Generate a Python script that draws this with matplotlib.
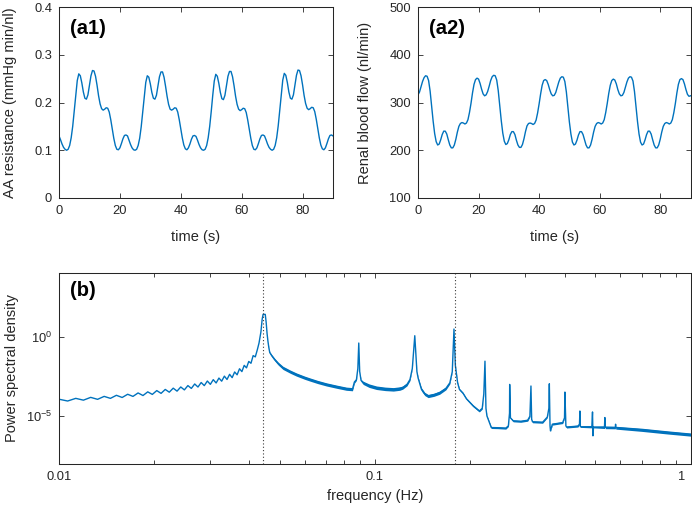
import numpy as np
import matplotlib
matplotlib.use("Agg")
import matplotlib.pyplot as plt
from matplotlib.ticker import FixedLocator, NullLocator, NullFormatter
from matplotlib.transforms import ScaledTranslation

plt.rcParams['font.family'] = ['Liberation Sans', 'DejaVu Sans']
plt.rcParams['mathtext.fontset'] = 'custom'
plt.rcParams['mathtext.rm'] = 'Liberation Sans'
plt.rcParams['mathtext.it'] = 'Liberation Sans:italic'
plt.rcParams['mathtext.bf'] = 'Liberation Sans:bold'

# ---------------- data ----------------
time_s = np.arange(0, 90.25, 0.5)   # sampling grid of the time series (s)

resistance = [
    0.130,0.122,0.113,0.106,0.102,0.100,0.102,0.110,0.126,0.150,
    0.182,0.216,0.246,0.260,0.256,0.241,0.222,0.209,0.207,0.216,
    0.236,0.256,0.267,0.266,0.255,0.236,0.214,0.197,0.187,0.184,
    0.186,0.189,0.188,0.180,0.164,0.144,0.125,0.110,0.102,0.101,
    0.105,0.114,0.124,0.131,0.132,
    0.130,0.121,0.112,0.105,0.101,0.100,0.102,0.110,0.125,0.149,
    0.180,0.213,0.242,0.256,0.253,0.239,0.221,0.209,0.207,0.215,
    0.234,0.254,0.264,0.264,0.253,0.234,0.213,0.196,0.186,0.184,
    0.186,0.189,0.188,0.180,0.164,0.145,0.126,0.111,0.103,0.101,
    0.105,0.113,0.123,0.130,0.131,
    0.129,0.121,0.112,0.105,0.101,0.100,0.102,0.110,0.126,0.150,
    0.181,0.215,0.245,0.259,0.255,0.240,0.221,0.208,0.206,0.215,
    0.235,0.255,0.265,0.265,0.254,0.235,0.213,0.196,0.186,0.183,
    0.185,0.188,0.187,0.179,0.163,0.144,0.125,0.110,0.102,0.101,
    0.105,0.114,0.124,0.131,0.132,
    0.130,0.122,0.113,0.106,0.102,0.100,0.102,0.110,0.126,0.151,
    0.183,0.217,0.247,0.261,0.257,0.242,0.222,0.209,0.207,0.216,
    0.236,0.257,0.268,0.267,0.256,0.237,0.215,0.198,0.188,0.185,
    0.187,0.190,0.189,0.181,0.165,0.145,0.126,0.111,0.103,0.101,
    0.105,0.114,0.124,0.131,0.132,
    0.130,
]

flow = [
    316,322,333,344,352,356,355,346,324,293,
    261,235,218,211,213,222,233,240,240,234,
    222,211,205,205,211,223,238,250,256,258,
    257,255,257,264,279,298,320,338,348,351,
    349,340,328,318,314,
    316,323,334,346,354,357,356,347,325,294,
    262,236,219,212,214,222,233,239,239,233,
    221,211,206,206,212,224,239,251,256,257,
    256,254,256,263,278,297,318,336,346,348,
    346,338,327,318,314,
    315,321,332,343,351,354,353,344,322,291,
    259,234,217,211,213,221,232,239,239,233,
    222,211,205,205,211,223,238,250,256,258,
    257,255,257,264,279,298,319,336,346,349,
    347,339,327,318,314,
    315,321,332,343,351,354,353,345,323,292,
    260,234,217,211,213,222,233,240,240,234,
    222,211,205,205,211,223,238,250,256,258,
    257,255,257,264,279,298,320,338,348,350,
    348,339,327,317,313,
    314,
]

# power spectral density: frequency (Hz), log10(PSD), half band width (decades)
psd_freq = [
    0.01000,0.01065,0.01130,0.01195,0.01260,0.01325,0.01390,0.01455,0.01520,0.01585,
    0.01650,0.01715,0.01780,0.01845,0.01910,0.01975,0.02040,0.02105,0.02170,0.02235,
    0.02300,0.02365,0.02430,0.02495,0.02560,0.02625,0.02690,0.02755,0.02820,0.02885,
    0.02950,0.03015,0.03080,0.03145,0.03210,0.03275,0.03340,0.03405,0.03470,0.03535,
    0.03600,0.03665,0.03730,0.03795,0.03860,0.03925,0.03990,0.04055,0.04120,0.04185,
    0.04250,
    0.04300,0.04360,0.04400,0.04430,0.04500,0.04530,0.04560,0.04590,0.04620,0.04650,
    0.04720,0.04820,0.04950,0.05120,0.05400,0.05650,0.06000,0.06230,0.06600,0.07030,
    0.07600,0.08130,0.08500,0.08620,0.08750,0.08840,0.08900,0.08960,0.09050,0.09190,
    0.09600,0.10130,0.10800,0.11450,0.12000,0.12260,0.12650,0.12930,0.13150,0.13390,
    0.13600,0.13720,0.14050,0.14400,0.14760,0.15400,0.16050,0.16800,0.17290,0.17600,
    0.17820,0.18000,0.18300,0.18540,0.19030,0.19510,0.20500,0.21440,0.21900,0.22150,
    0.22340,0.22500,0.22660,0.23390,0.24500,0.26000,0.26500,0.26720,0.26750,0.26900,
    0.27450,0.29000,0.30500,0.31000,0.31240,0.31400,0.31600,0.34000,0.35200,0.35600,
    0.35720,0.35900,0.36020,0.36510,0.39370,0.39900,0.40020,0.40300,0.40500,0.44000,
    0.44500,0.44640,0.44800,0.48700,0.48940,0.49100,0.49300,0.53400,0.53550,0.53700,
    0.57800,0.57910,0.58000,0.70000,0.85000,1.00000,
]
psd_log10 = [
    -3.930,-4.043,-3.876,-3.989,-3.814,-3.937,-3.752,-3.876,-3.684,-3.821,
    -3.619,-3.753,-3.536,-3.698,-3.468,-3.628,-3.388,-3.562,-3.315,-3.488,
    -3.235,-3.422,-3.161,-3.344,-3.073,-3.251,-2.973,-3.164,-2.881,-3.076,
    -2.787,-2.996,-2.701,-2.909,-2.601,-2.796,-2.480,-2.689,-2.366,-2.575,
    -2.218,-2.397,-2.016,-2.195,-1.803,-1.960,-1.557,-1.672,-1.190,-1.270,
    -0.80,
    -0.40,0.30,1.10,1.40,1.40,0.90,0.20,-0.30,-0.70,-1.00,
    -1.20,-1.44,-1.70,-1.96,-2.20,-2.38,-2.58,-2.69,-2.85,-3.00,
    -3.15,-3.27,-3.30,-2.85,-2.70,-2.00,-0.40,-2.20,-2.75,-2.90,
    -3.08,-3.21,-3.28,-3.31,-3.26,-3.20,-3.00,-2.69,-2.00,0.06,
    -2.20,-2.60,-3.30,-3.60,-3.73,-3.65,-3.52,-3.25,-2.90,-2.20,
    0.48,-1.80,-2.90,-3.31,-3.55,-3.90,-4.35,-4.67,-4.50,-3.60,
    -1.54,-4.50,-4.98,-5.71,-5.72,-5.75,-5.60,-4.80,-3.00,-5.10,
    -5.29,-5.32,-5.25,-5.00,-3.10,-5.20,-5.35,-5.38,-5.05,-4.50,
    -2.96,-5.60,-5.92,-5.50,-5.40,-5.10,-3.48,-5.60,-5.68,-5.62,
    -5.50,-4.67,-5.66,-5.66,-4.73,-6.23,-5.68,-5.69,-5.08,-5.70,
    -5.71,-5.50,-5.72,-5.85,-6.02,-6.15,
]
psd_halfwidth = [0.0] * 51 + [
    0.0,0.0,0.0,0.0,0.0,0.0,0.0,0.0,0.03,0.05,
    0.07,0.08,0.09,0.10,0.10,0.10,0.10,0.10,0.10,0.10,
    0.10,0.10,0.10,0.08,0.05,0.02,0.0,0.02,0.06,0.10,
    0.11,0.11,0.11,0.11,0.11,0.10,0.09,0.07,0.03,0.0,
    0.03,0.06,0.10,0.10,0.10,0.10,0.10,0.09,0.07,0.03,
    0.0,0.02,0.04,0.05,0.05,0.05,0.06,0.06,0.05,0.02,
    0.0,0.02,0.04,0.06,0.06,0.06,0.05,0.0,0.0,0.03,
    0.06,0.06,0.06,0.04,0.0,0.03,0.06,0.06,0.04,0.01,
    0.0,0.02,0.03,0.06,0.06,0.03,0.0,0.03,0.06,0.06,
    0.03,0.0,0.04,0.07,0.0,0.0,0.05,0.08,0.0,0.08,
    0.08,0.0,0.09,0.10,0.10,0.10,
]
ref_freqs = [0.0442, 0.179]   # dotted reference lines

# ---------------- style ----------------
BLUE = '#0072BD'
AXC = '#262626'
W, H = 692, 508
TICK_FS = 9.3
LABEL_FS = 10.5
PANEL_FS = 14.5

fig = plt.figure(figsize=(W / 100, H / 100), dpi=100)

def px_axes(l, r, t, b):
    return fig.add_axes([l / W, 1 - b / H, (r - l) / W, (b - t) / H])

def style(ax):
    for s in ax.spines.values():
        s.set_color(AXC)
        s.set_linewidth(0.75)
    ax.tick_params(which='both', direction='in', top=True, right=True,
                   colors=AXC, labelcolor=AXC, labelsize=TICK_FS, width=0.6)
    ax.tick_params(which='major', length=3.5, pad=5)
    ax.tick_params(which='minor', length=3)

ax1 = px_axes(59, 333, 7, 198)
ax2 = px_axes(418, 690.5, 7, 198)
ax3 = px_axes(59, 690.5, 273, 464)

# (a1)
ax1.plot(time_s, resistance, color=BLUE, lw=1.0)
ax1.set_xlim(0, 90)
ax1.set_ylim(0, 0.4)
ax1.set_xticks([0, 20, 40, 60, 80])
ax1.set_yticks([0, 0.1, 0.2, 0.3, 0.4])
ax1.set_yticklabels(['0', '0.1', '0.2', '0.3', '0.4'])
style(ax1)
ax1.set_xlabel('time (s)', fontsize=LABEL_FS, color=AXC)
ax1.set_ylabel('AA resistance (mmHg min/nl)', fontsize=LABEL_FS, color=AXC)
ax1.xaxis.set_label_coords(0.5, -0.165)
ax1.yaxis.set_label_coords(-0.153, 0.5)
ax1.text(0.04, 0.89, '(a1)', transform=ax1.transAxes, fontsize=PANEL_FS,
         fontweight='bold', ha='left', va='center', color='black')

# (a2)
ax2.plot(time_s, flow, color=BLUE, lw=1.0)
ax2.set_xlim(0, 90)
ax2.set_ylim(100, 500)
ax2.set_xticks([0, 20, 40, 60, 80])
ax2.set_yticks([100, 200, 300, 400, 500])
style(ax2)
ax2.set_xlabel('time (s)', fontsize=LABEL_FS, color=AXC)
ax2.set_ylabel('Renal blood flow (nl/min)', fontsize=LABEL_FS, color=AXC)
ax2.xaxis.set_label_coords(0.5, -0.165)
ax2.yaxis.set_label_coords(-0.168, 0.5)
ax2.text(0.04, 0.89, '(a2)', transform=ax2.transAxes, fontsize=PANEL_FS,
         fontweight='bold', ha='left', va='center', color='black')

# (b)
f = np.array(psd_freq)
c = np.array(psd_log10)
w = np.array(psd_halfwidth)
ax3.set_xscale('log')
ax3.set_yscale('log')
ax3.fill_between(f, 10 ** (c - w), 10 ** (c + w), color=BLUE, lw=0)
ax3.plot(f, 10 ** c, color=BLUE, lw=1.0)
for rf in ref_freqs:
    ax3.axvline(rf, color='#3a3a3a', lw=0.8, ls=(0, (1, 2)))
ax3.set_xlim(0.01, 1)
ax3.set_ylim(1e-8, 1e4)
ax3.xaxis.set_major_locator(FixedLocator([0.01, 0.1, 1]))
ax3.set_xticklabels(['0.01', '0.1', '1'])
ax3.xaxis.set_minor_locator(FixedLocator(
    [k * 0.01 for k in range(2, 10)] + [k * 0.1 for k in range(2, 10)]))
ax3.xaxis.set_minor_formatter(NullFormatter())
ax3.yaxis.set_major_locator(FixedLocator([1e-5, 1]))
ax3.set_yticklabels([r'$10^{-5}$', r'$10^{0}$'])
ax3.yaxis.set_minor_locator(NullLocator())
style(ax3)
last = ax3.get_xticklabels()[-1]
last.set_horizontalalignment('right')
last.set_transform(last.get_transform() + ScaledTranslation(-3.5 / 72, 0, fig.dpi_scale_trans))
ax3.set_xlabel('frequency (Hz)', fontsize=LABEL_FS, color=AXC)
ax3.set_ylabel('Power spectral density', fontsize=LABEL_FS, color=AXC)
ax3.xaxis.set_label_coords(0.5, -0.13)
ax3.yaxis.set_label_coords(-0.064, 0.5)
ax3.text(0.0174, 0.906, '(b)', transform=ax3.transAxes, fontsize=PANEL_FS,
         fontweight='bold', ha='left', va='center', color='black')

fig.savefig('out.png', dpi=100)
